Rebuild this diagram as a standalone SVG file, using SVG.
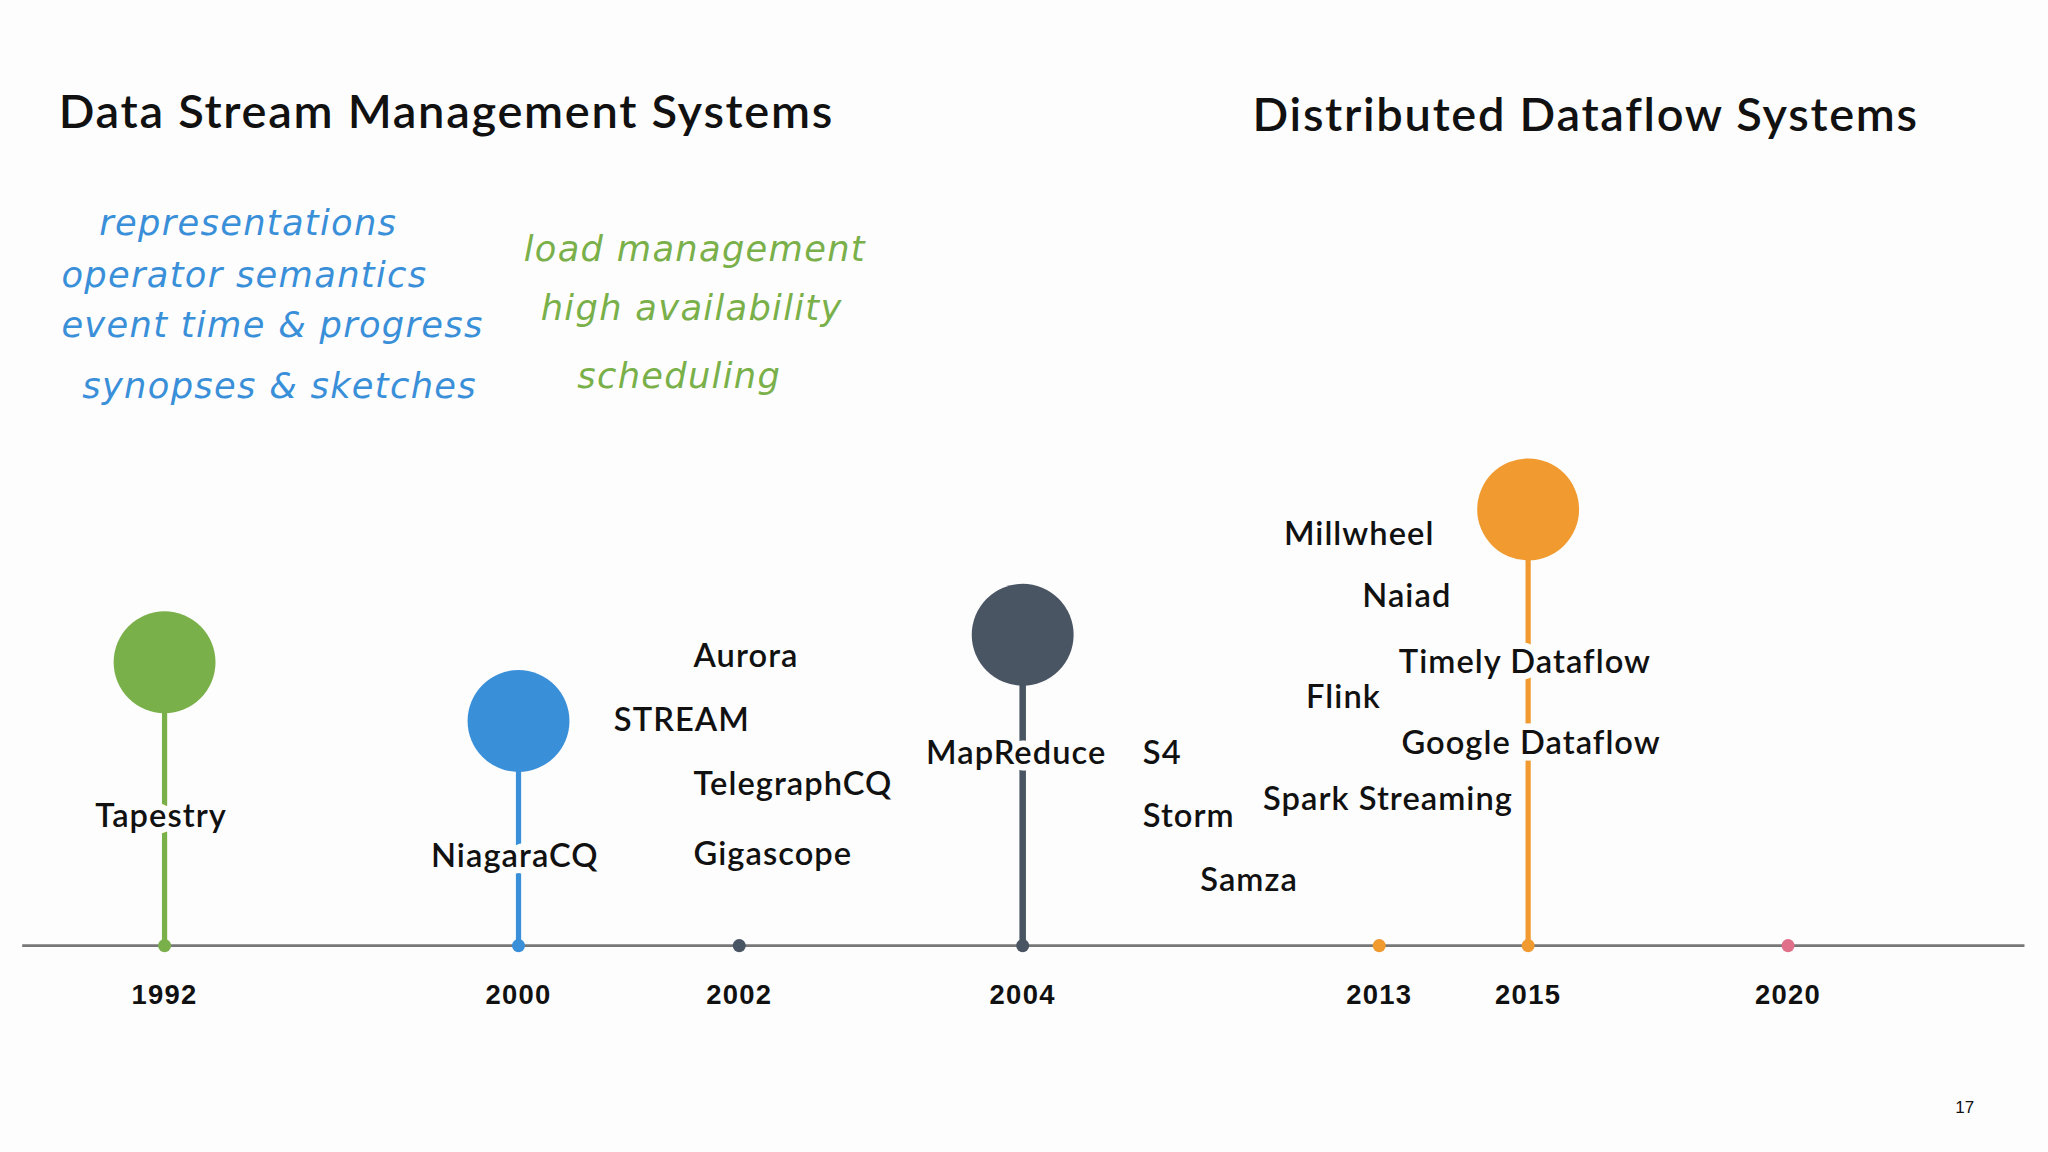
<svg xmlns="http://www.w3.org/2000/svg" width="2048" height="1152" viewBox="0 0 2048 1152">
<style>
.t{font-family:"Lato","Liberation Sans",sans-serif;font-weight:600;fill:#111;font-size:36px;letter-spacing:1.3px}
.h{font-family:"DejaVu Sans",sans-serif;font-style:italic;font-size:27px;letter-spacing:1px}
.b{fill:#3a8fd9}.g{fill:#7ab04a}
.y{font-family:"Liberation Sans",sans-serif;font-weight:bold;font-size:21px;fill:#111;text-anchor:middle;letter-spacing:1px}
.l{font-family:"Lato","Liberation Sans",sans-serif;font-weight:600;font-size:25px;letter-spacing:0.8px;fill:#111;stroke:#fdfdfd;stroke-width:10;paint-order:stroke;stroke-linejoin:round}
</style>
<rect width="2048" height="1152" fill="#fdfdfd"/>
<g transform="scale(1.3061)">
<text class="t" x="45" y="98">Data Stream Management Systems</text>
<text class="t" x="959" y="100">Distributed Dataflow Systems</text>
<g class="h b"><text x="76" y="180">representations</text><text x="47" y="220">operator semantics</text><text x="47" y="258">event time &amp; progress</text><text x="63" y="305">synopses &amp; sketches</text></g>
<g class="h g"><text x="401" y="200">load management</text><text x="414" y="245">high availability</text><text x="442" y="297">scheduling</text></g>
<g id="connectors">
<line x1="17" y1="724" x2="1550" y2="724" stroke="#777" stroke-width="2"/>
<line x1="126" y1="507" x2="126" y2="724" stroke="#7ab04a" stroke-width="4"/>
<line x1="397" y1="552" x2="397" y2="724" stroke="#3a8fd9" stroke-width="4"/>
<line x1="783" y1="486" x2="783" y2="724" stroke="#4a5563" stroke-width="5"/>
<line x1="1170" y1="390" x2="1170" y2="724" stroke="#f09a30" stroke-width="4"/>
</g>
<g id="dots">
<circle cx="126" cy="724" r="5" fill="#7ab04a"/><circle cx="397" cy="724" r="5" fill="#3a8fd9"/>
<circle cx="566" cy="724" r="5" fill="#4a5563"/><circle cx="783" cy="724" r="5" fill="#4a5563"/>
<circle cx="1056" cy="724" r="5" fill="#f09a30"/><circle cx="1170" cy="724" r="5" fill="#f09a30"/>
<circle cx="1369" cy="724" r="5" fill="#e0708a"/>
</g>
<g id="circles">
<circle cx="126" cy="507" r="39" fill="#7ab04a"/><circle cx="397" cy="552" r="39" fill="#3a8fd9"/>
<circle cx="783" cy="486" r="39" fill="#4a5563"/><circle cx="1170" cy="390" r="39" fill="#f09a30"/>
</g>
<g id="years"><text class="y" x="126" y="769">1992</text><text class="y" x="397" y="769">2000</text><text class="y" x="566" y="769">2002</text><text class="y" x="783" y="769">2004</text><text class="y" x="1056" y="769">2013</text><text class="y" x="1170" y="769">2015</text><text class="y" x="1369" y="769">2020</text></g>
<g id="labels">
<text class="l" x="73" y="633">Tapestry</text><text class="l" x="330" y="664">NiagaraCQ</text>
<text class="l" x="531" y="511">Aurora</text><text class="l" x="470" y="560">STREAM</text><text class="l" x="531" y="609">TelegraphCQ</text><text class="l" x="531" y="662">Gigascope</text>
<text class="l" x="709" y="585">MapReduce</text><text class="l" x="875" y="585">S4</text><text class="l" x="875" y="633">Storm</text><text class="l" x="919" y="682">Samza</text>
<text class="l" x="983" y="417">Millwheel</text><text class="l" x="1043" y="465">Naiad</text><text class="l" x="1071" y="515">Timely Dataflow</text><text class="l" x="1000" y="542">Flink</text><text class="l" x="1073" y="577">Google Dataflow</text><text class="l" x="967" y="620">Spark Streaming</text>
</g>
<text x="1497" y="852" font-family="Liberation Sans,sans-serif" font-size="13" fill="#111">17</text>
</g>
</svg>
